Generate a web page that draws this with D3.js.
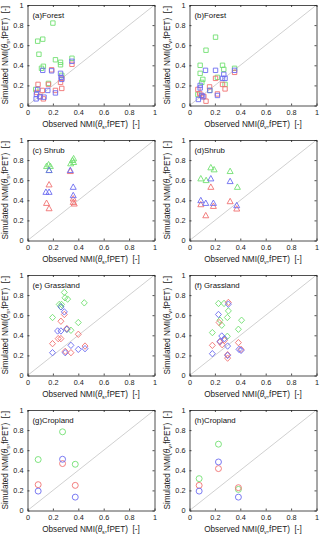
<!DOCTYPE html>
<html>
<head>
<meta charset="utf-8">
<script src="https://cdn.jsdelivr.net/npm/d3@7"></script>
<style>
  body { margin: 0; background: #fff; }
  svg { display: block; }
</style>
</head>
<body>
<div id="chart"></div>
<script>
// Tick values for both axes
const tickValues = [0, 0.2, 0.4, 0.6, 0.8, 1];

const panelTitles = ['(a)Forest', '(b)Forest', '(c) Shrub', '(d)Shrub', '(e) Grassland', '(f) Grassland', '(g)Cropland', '(h)Cropland'];
const panelSub = ['s', 'v', 's', 'v', 's', 'v', 's', 'v'];
const panelMarker = ['square', 'square', 'triangle', 'triangle', 'diamond', 'diamond', 'circle', 'circle'];

// [observed, simulated] pairs, per panel and series
const forestSGreen = [[0.20,0.82],[0.08,0.64],[0.12,0.66],[0.09,0.51],[0.11,0.37],[0.125,0.39],[0.22,0.455],[0.26,0.43],[0.26,0.405],[0.35,0.47],[0.165,0.22],[0.065,0.16],[0.27,0.30]];
const forestSRed = [[0.19,0.355],[0.35,0.41],[0.083,0.21],[0.165,0.21],[0.26,0.23],[0.27,0.17],[0.22,0.15],[0.117,0.15],[0.073,0.13],[0.125,0.066],[0.10,0.09],[0.27,0.27]];
const forestSBlue = [[0.12,0.35],[0.19,0.345],[0.26,0.32],[0.264,0.28],[0.27,0.26],[0.35,0.44],[0.16,0.15],[0.22,0.125],[0.08,0.16],[0.07,0.11],[0.097,0.086],[0.068,0.066],[0.13,0.083]];

const forestVGreen = [[0.205,0.68],[0.13,0.55],[0.084,0.40],[0.084,0.32],[0.105,0.26],[0.097,0.23],[0.26,0.40],[0.27,0.36],[0.22,0.28],[0.355,0.37],[0.16,0.15],[0.066,0.11],[0.28,0.21]];
const forestVRed = [[0.205,0.27],[0.158,0.185],[0.26,0.21],[0.28,0.165],[0.355,0.33],[0.22,0.115],[0.08,0.12],[0.092,0.10],[0.113,0.09],[0.13,0.043],[0.066,0.16]];
const forestVBlue = [[0.126,0.35],[0.205,0.35],[0.084,0.20],[0.084,0.175],[0.27,0.31],[0.26,0.27],[0.28,0.27],[0.355,0.35],[0.16,0.15],[0.22,0.10],[0.07,0.06],[0.097,0.10],[0.105,0.086]];

const shrubSGreen = [[0.15,0.74],[0.166,0.757],[0.18,0.74],[0.17,0.70],[0.34,0.767],[0.355,0.80],[0.363,0.817],[0.363,0.78]];
const shrubSRed = [[0.17,0.557],[0.15,0.373],[0.17,0.32],[0.337,0.69],[0.36,0.417],[0.36,0.383],[0.368,0.367]];
const shrubSBlue = [[0.17,0.70],[0.145,0.483],[0.17,0.483],[0.337,0.70],[0.36,0.533],[0.36,0.45]];

const shrubVGreen = [[0.168,0.727],[0.194,0.707],[0.089,0.617],[0.131,0.60],[0.32,0.69],[0.377,0.533]];
const shrubVRed = [[0.168,0.533],[0.32,0.39],[0.089,0.36],[0.188,0.343],[0.128,0.25],[0.372,0.317]];
const shrubVBlue = [[0.168,0.617],[0.32,0.59],[0.089,0.40],[0.128,0.373],[0.188,0.373],[0.372,0.35]];

const grassSGreen = [[0.29,0.827],[0.295,0.773],[0.316,0.76],[0.25,0.707],[0.268,0.707],[0.263,0.683],[0.197,0.577],[0.447,0.723],[0.40,0.527],[0.342,0.45],[0.31,0.46]];
const grassSRed = [[0.263,0.54],[0.29,0.607],[0.242,0.367],[0.263,0.367],[0.197,0.317],[0.40,0.41],[0.297,0.24],[0.342,0.227],[0.453,0.293],[0.31,0.467]];
const grassSBlue = [[0.29,0.633],[0.263,0.683],[0.237,0.443],[0.263,0.443],[0.31,0.46],[0.342,0.30],[0.197,0.227],[0.297,0.227],[0.40,0.26],[0.453,0.267]];

const grassVGreen = [[0.228,0.717],[0.272,0.717],[0.306,0.643],[0.298,0.577],[0.24,0.55],[0.254,0.50],[0.18,0.427],[0.298,0.39],[0.41,0.55],[0.385,0.46]];
const grassVRed = [[0.306,0.727],[0.233,0.527],[0.18,0.30],[0.24,0.333],[0.257,0.307],[0.275,0.35],[0.385,0.327],[0.30,0.207],[0.30,0.173],[0.406,0.26]];
const grassVBlue = [[0.228,0.607],[0.306,0.71],[0.254,0.393],[0.275,0.367],[0.24,0.34],[0.30,0.293],[0.18,0.217],[0.30,0.20],[0.39,0.26],[0.406,0.25]];

const cropSGreen = [[0.084,0.507],[0.276,0.783],[0.376,0.46]];
const cropSRed = [[0.084,0.257],[0.276,0.467],[0.376,0.25]];
const cropSBlue = [[0.084,0.193],[0.276,0.51],[0.376,0.133]];

const cropVGreen = [[0.076,0.317],[0.228,0.66],[0.385,0.21]];
const cropVRed = [[0.076,0.25],[0.228,0.417],[0.385,0.227]];
const cropVBlue = [[0.076,0.193],[0.228,0.483],[0.385,0.133]];

const panelSeries = [
  [forestSGreen, forestSRed, forestSBlue],
  [forestVGreen, forestVRed, forestVBlue],
  [shrubSGreen, shrubSRed, shrubSBlue],
  [shrubVGreen, shrubVRed, shrubVBlue],
  [grassSGreen, grassSRed, grassSBlue],
  [grassVGreen, grassVRed, grassVBlue],
  [cropSGreen, cropSRed, cropSBlue],
  [cropVGreen, cropVRed, cropVBlue],
];
const seriesColors = ['#72e072', '#f07272', '#6c6cf0'];

const W = 320, H = 536;
const colX = [27.5, 189.5];
const rowY = [5, 140, 275, 410];
const pw = 127, ph = 100.5;
const font = 'Liberation Sans, Arial, sans-serif';

const svg = d3.select('#chart').append('svg')
  .attr('width', W)
  .attr('height', H)
  .style('font-family', font);

const markerPath = {
  square: 'M-2.2,-2.2H2.2V2.2H-2.2Z',
  triangle: 'M0,-3L3,2.4H-3Z',
  diamond: 'M0,-3.2L3,0L0,3.2L-3,0Z',
  circle: d3.symbol(d3.symbolCircle, 28)(),
};

function axisLabel(sel, prefix, sub) {
  sel.append('tspan').text(prefix + 'NMI(');
  sel.append('tspan').attr('font-style', 'italic').text('\u03b8');
  sel.append('tspan').attr('font-size', 5.5).attr('dy', 2).text(sub);
  sel.append('tspan').attr('dy', -2).text(',fPET)\u00a0\u00a0[-]');
}

panelSeries.forEach((series, i) => {
  const x0 = colX[i % 2], y0 = rowY[Math.floor(i / 2)];
  const g = svg.append('g').attr('transform', `translate(${x0},${y0})`);

  const x = d3.scaleLinear().domain([0, 1]).range([0, pw]);
  const y = d3.scaleLinear().domain([0, 1]).range([ph, 0]);

  // 1:1 line
  g.append('line')
    .attr('x1', x(0)).attr('y1', y(0))
    .attr('x2', x(1)).attr('y2', y(1))
    .attr('stroke', '#c4c4c4')
    .attr('stroke-width', 0.8);

  // Points
  series.forEach((pts, s) => {
    g.append('g').selectAll('path')
      .data(pts)
      .join('path')
      .attr('d', markerPath[panelMarker[i]])
      .attr('transform', d => `translate(${x(d[0])},${y(d[1])})`)
      .attr('fill', 'none')
      .attr('stroke', seriesColors[s])
      .attr('stroke-width', 0.9);
  });

  // Axes (inward ticks, box)
  g.append('g').attr('transform', `translate(0,${ph})`)
    .call(d3.axisBottom(x).tickValues(tickValues).tickSizeInner(-2).tickSizeOuter(0).tickPadding(4).tickFormat(d3.format('~g')));
  g.append('g')
    .call(d3.axisLeft(y).tickValues(tickValues).tickSizeInner(-2).tickSizeOuter(0).tickPadding(4).tickFormat(d3.format('~g')));
  g.append('g')
    .call(d3.axisTop(x).tickValues(tickValues).tickSizeInner(-2).tickSizeOuter(0).tickFormat(''));
  g.append('g').attr('transform', `translate(${pw},0)`)
    .call(d3.axisRight(y).tickValues(tickValues).tickSizeInner(-2).tickSizeOuter(0).tickFormat(''));
  g.selectAll('.domain').attr('stroke', '#222').attr('stroke-width', 0.8);
  g.selectAll('.tick line').attr('stroke', '#222').attr('stroke-width', 0.8);
  g.selectAll('.tick text').attr('font-size', 7.3).attr('font-family', font).attr('fill', '#222');

  // Title
  g.append('text')
    .attr('x', 5).attr('y', 12.5)
    .attr('font-size', 7.8)
    .attr('fill', '#111')
    .text(panelTitles[i]);

  // X label
  const xl = g.append('text')
    .attr('x', pw / 2).attr('y', ph + 21)
    .attr('text-anchor', 'middle')
    .attr('font-size', 8.2)
    .attr('fill', '#222');
  axisLabel(xl, 'Observed ', panelSub[i]);

  // Y label
  const yl = g.append('text')
    .attr('transform', `translate(${-20},${ph / 2}) rotate(-90)`)
    .attr('text-anchor', 'middle')
    .attr('font-size', 8.2)
    .attr('fill', '#222');
  axisLabel(yl, 'Simulated ', panelSub[i]);
});
</script>
</body>
</html>
